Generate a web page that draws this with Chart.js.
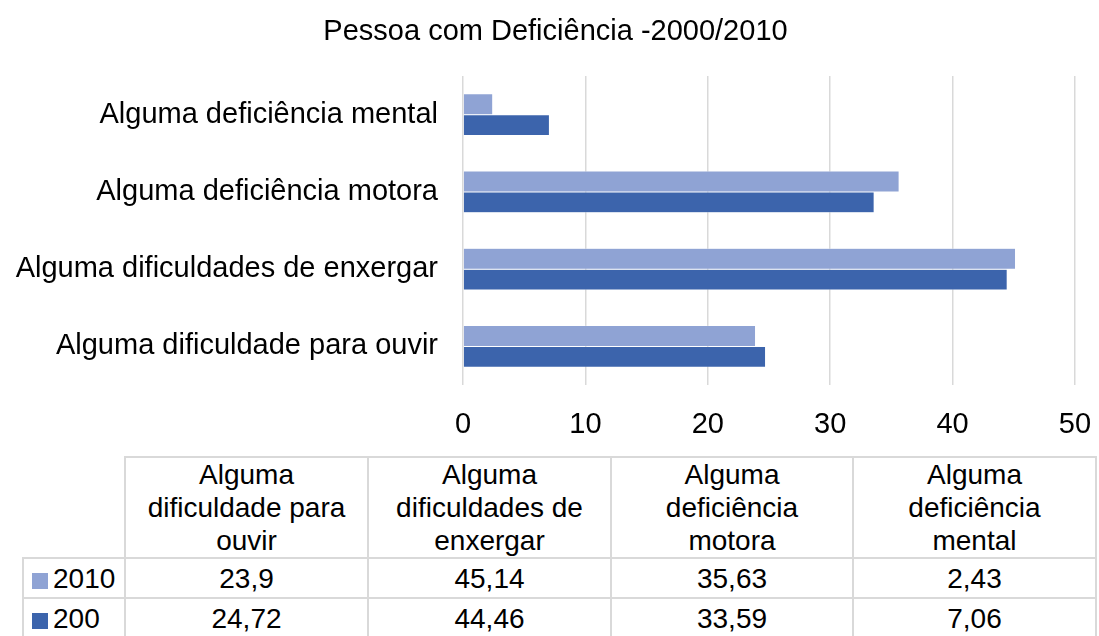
<!DOCTYPE html>
<html>
<head>
<meta charset="utf-8">
<title>Pessoa com Deficiência</title>
<script src="https://cdn.jsdelivr.net/npm/chart.js@4.4.0/dist/chart.umd.min.js"></script>
<style>
    body {
        margin: 0;
        background: #fff;
        font-family: "Liberation Sans", Arial, sans-serif;
    }
    #wrap {
        position: absolute;
        left: 0;
        top: 0;
        width: 1099px;
        height: 445px;
    }
    #dataTable {
        position: absolute;
        left: 22px;
        top: 456px;
        border-collapse: collapse;
        table-layout: fixed;
        font-size: 28px;
        color: #000;
    }
    #dataTable td {
        border: 2px solid #d9d9d9;
        text-align: center;
        padding: 0;
        line-height: 33px;
        white-space: nowrap;
    }
    #dataTable tr.head td { height: 99px; }
    #dataTable tr.row td { height: 38px; }
    #dataTable td.blank { border-top: none; border-left: none; }
    #dataTable td.name { text-align: left; padding-left: 8px; }
    .swatch {
        display: inline-block;
        width: 16px;
        height: 16px;
        margin-right: 5px;
        vertical-align: -1px;
    }
</style>
</head>
<body>
<div id="wrap"><canvas id="chartDeficiencia"></canvas></div>
<table id="dataTable">
    <colgroup>
        <col style="width:102px">
        <col style="width:243px">
        <col style="width:243px">
        <col style="width:242px">
        <col style="width:243px">
    </colgroup>
    <tbody id="tableBody"></tbody>
</table>
<script>
// dados (ordem da tabela: ouvir, enxergar, motora, mental)
const categories = [
    "Alguma dificuldade para ouvir",
    "Alguma dificuldades de enxergar",
    "Alguma deficiência motora",
    "Alguma deficiência mental"
];
const headerLines = [
    ["Alguma", "dificuldade para", "ouvir"],
    ["Alguma", "dificuldades de", "enxergar"],
    ["Alguma", "deficiência", "motora"],
    ["Alguma", "deficiência", "mental"]
];
const seriesNames = ["2010", "200"];
const values2010 = [23.9, 45.14, 35.63, 2.43];
const values2000 = [24.72, 44.46, 33.59, 7.06];
const xTicks = [0, 10, 20, 30, 40, 50];

const chartTitle = "Pessoa com Deficiência -2000/2010";
const colors = ["#8FA3D4", "#3C64AC"];
const fontFamily = "'Liberation Sans', Arial, sans-serif";

const fmt = v => String(v).replace(".", ",");

// tabela de dados embaixo do grafico
const body = document.getElementById("tableBody");
let html = '<tr class="head"><td class="blank"></td>';
headerLines.forEach(lines => {
    html += "<td>" + lines.join("<br>") + "</td>";
});
html += "</tr>";
[values2010, values2000].forEach((vals, i) => {
    html += '<tr class="row"><td class="name"><span class="swatch" style="background:' + colors[i] + '"></span>' + seriesNames[i] + "</td>";
    vals.forEach(v => {
        html += "<td>" + fmt(v) + "</td>";
    });
    html += "</tr>";
});
body.innerHTML = html;

new Chart(document.getElementById("chartDeficiencia"), {
    type: "bar",
    data: {
        labels  : categories,
        datasets: [values2010, values2000].map((vals, i) => ({
            label             : seriesNames[i],
            data              : vals,
            backgroundColor   : colors[i],
            borderColor       : "rgba(255,255,255,0.7)",
            borderWidth       : 0.5,
            categoryPercentage: 0.54,
            barPercentage     : 1
        }))
    },
    options: {
        indexAxis          : "y",
        responsive         : true,
        maintainAspectRatio: false,
        animation          : false,
        layout             : { padding: { left: 12, right: 0, top: 0, bottom: 0 } },
        plugins: {
            legend : { display: false },
            tooltip: { enabled: false },
            title  : {
                display: true,
                text   : chartTitle,
                color  : "#000",
                font   : { family: fontFamily, size: 29, weight: "normal" },
                padding: { top: 14.6, bottom: 26.6 }
            }
        },
        scales: {
            x: {
                min: 0,
                max: 50,
                afterBuildTicks: scale => { scale.ticks = xTicks.map(v => ({ value: v })); },
                afterFit: scale => {
                    scale.height = 60;
                    scale.paddingRight = 24;
                    scale.paddingLeft = 0;
                },
                grid  : { color: "#d9d9d9", lineWidth: 1.5, drawTicks: false },
                border: { display: false },
                ticks : { padding: 23, color: "#000", font: { family: fontFamily, size: 29 } }
            },
            y: {
                reverse : true,
                afterFit: scale => { scale.width = 451; },
                grid  : { display: false },
                border: { display: false },
                ticks : { padding: 17, color: "#000", font: { family: fontFamily, size: 29 } }
            }
        }
    }
});
</script>
</body>
</html>
